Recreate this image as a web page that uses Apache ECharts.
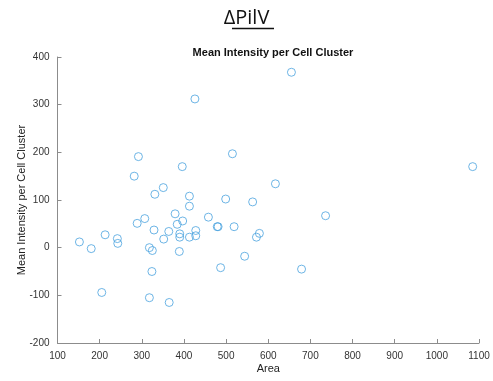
<!DOCTYPE html>
<html><head><meta charset="utf-8">
<script src="https://cdn.jsdelivr.net/npm/echarts@6/dist/echarts.min.js"></script>
<style>html,body{margin:0;padding:0;background:#fff}#c{width:493px;height:381px}</style>
</head><body><div id="c"></div>
<script>
const area = [152,180,213,242,243,205,282,292,331,351,396,426,413,413,515,499,563,655,1085,617,736,679,572,579,289,307,329,318,325,324,318,365,352,364,379,384,397,390,390,389,413,428,428,458,479,481,519,487,544];
const intensity = [12,-2,27,19,9,-94,150,191,112,126,170,312,108,87,197,102,96,368,170,134,67,-45,22,30,51,61,37,0,-6,-50,-105,-115,18,34,71,49,56,29,22,-8,22,25,36,64,44,44,44,-42,-18];
const xTicks = [100,1100,100];
const yTicks = [-200,400,100];
const data = area.map((a,i)=>[a,intensity[i]]);
const chart = echarts.init(document.getElementById('c'));
const axisCommon = () => ({
  axisLine:{show:true,onZero:false,lineStyle:{color:'#8c8c8c',width:1}},
  axisTick:{show:true,inside:true,length:4,lineStyle:{color:'#8c8c8c'}},
  axisLabel:{color:'#333',fontSize:10,fontFamily:'Liberation Sans',formatter:v=>String(v)},
  splitLine:{show:false},
  nameMoveOverlap:false,
  nameTextStyle:{color:'#222',fontSize:11,fontFamily:'Liberation Sans'}
});
chart.setOption({
  animation:false,
  title:{text:'Mean Intensity per Cell Cluster',left:268,top:42,textAlign:'center',
    textStyle:{fontSize:11,fontWeight:'bold',color:'#111',fontFamily:'Liberation Sans'}},
  graphic:[
    {type:'text',left:'center',top:8,style:{text:'ΔPilV',fontSize:20,fontFamily:'Open Sans',fill:'#111'}},
    {type:'line',shape:{x1:232,y1:28.5,x2:274,y2:28.5},style:{stroke:'#111',lineWidth:1.4}}
  ],
  grid:{left:57.5,right:14,top:57,bottom:38},
  xAxis:Object.assign({type:'value',min:xTicks[0],max:xTicks[1],interval:xTicks[2],name:'Area',nameLocation:'middle',nameGap:20},axisCommon()),
  yAxis:Object.assign({type:'value',min:yTicks[0],max:yTicks[1],interval:yTicks[2],name:'Mean Intensity per Cell Cluster',nameLocation:'middle',nameGap:30},axisCommon()),
  series:[{type:'scatter',data:data,symbol:'circle',symbolSize:8,
    itemStyle:{color:'rgba(0,0,0,0)',borderColor:'#4aa2de',borderWidth:1}}]
});
</script></body></html>
